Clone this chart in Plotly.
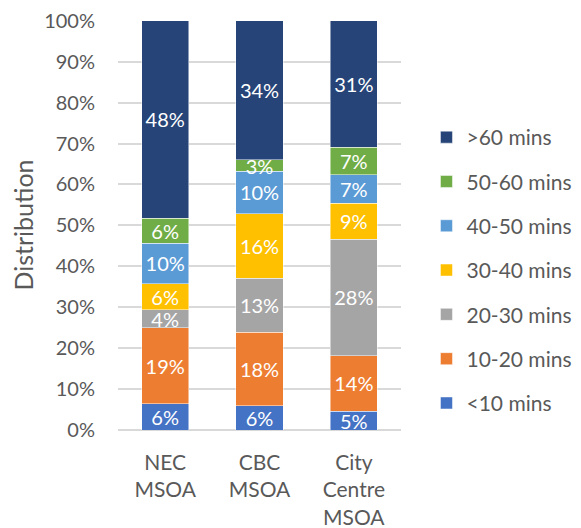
import plotly.graph_objects as go

categories = ["NEC<br>MSOA", "CBC<br>MSOA", "City<br>Centre<br>MSOA"]
series_names = ["<10 mins", "10-20 mins", "20-30 mins", "30-40 mins",
                "40-50 mins", "50-60 mins", ">60 mins"]
lt10 = [6.4, 5.9, 4.6]
m10_20 = [18.6, 18.0, 13.6]
m20_30 = [4.4, 13.2, 28.4]
m30_40 = [6.4, 15.8, 8.8]
m40_50 = [9.9, 10.3, 7.0]
m50_60 = [6.1, 2.8, 6.7]
gt60 = [48.2, 34.0, 30.9]
series_values = [lt10, m10_20, m20_30, m30_40, m40_50, m50_60, gt60]
colors = ["#4472C4", "#ED7D31", "#A5A5A5", "#FFC000", "#5B9BD5", "#70AD47", "#264478"]
y_ticks = [0, 10, 20, 30, 40, 50, 60, 70, 80, 90, 100]
y_tick_labels = [f"{v}%" for v in y_ticks]

FONT = "Lato"
GRAY = "#595959"

fig = go.Figure()
n = len(series_names)
for i, (name, vals, col) in enumerate(zip(series_names, series_values, colors)):
    fig.add_trace(go.Bar(
        x=categories, y=vals, name=name, legendgroup=name,
        legendrank=n - i,
        marker=dict(color=col, line=dict(color="rgba(255,255,255,0.6)", width=0.8)),
        texttemplate="%{y:.0f}%", textposition="inside", insidetextanchor="middle",
        textfont=dict(family=FONT, size=20, color="white"),
        constraintext="none",
    ))

fig.update_layout(
    barmode="stack",
    bargap=0.5,
    width=581, height=528,
    margin=dict(l=110, r=165, t=12, b=106),
    paper_bgcolor="white", plot_bgcolor="white",
    font=dict(family=FONT, size=20, color=GRAY),
    legend=dict(
        traceorder="grouped",
        tracegroupgap=14,
        x=1.09, xanchor="left", y=0.389, yanchor="middle",
        font=dict(family=FONT, size=21, color=GRAY),
        itemwidth=30,
    ),
    showlegend=True,
)
fig.update_yaxes(
    range=[0, 100.2], tickvals=y_ticks, ticktext=y_tick_labels,
    showgrid=True, gridcolor="#D9D9D9", gridwidth=1.5,
    zeroline=True, zerolinecolor="#D9D9D9", zerolinewidth=1.5,
    showline=False, ticks="", ticklabelstandoff=22, automargin=False,
    ticklabeloverflow="allow",
    tickfont=dict(family=FONT, size=20, color=GRAY),
    title=dict(text="Distribution", standoff=14, font=dict(family=FONT, size=25, color=GRAY)),
)
fig.update_xaxes(
    showgrid=False, showline=False, ticks="", ticklabelstandoff=18, automargin=False,
    ticklabeloverflow="allow",
    tickfont=dict(family=FONT, size=21, color=GRAY),
)
fig.write_html("out.html")
